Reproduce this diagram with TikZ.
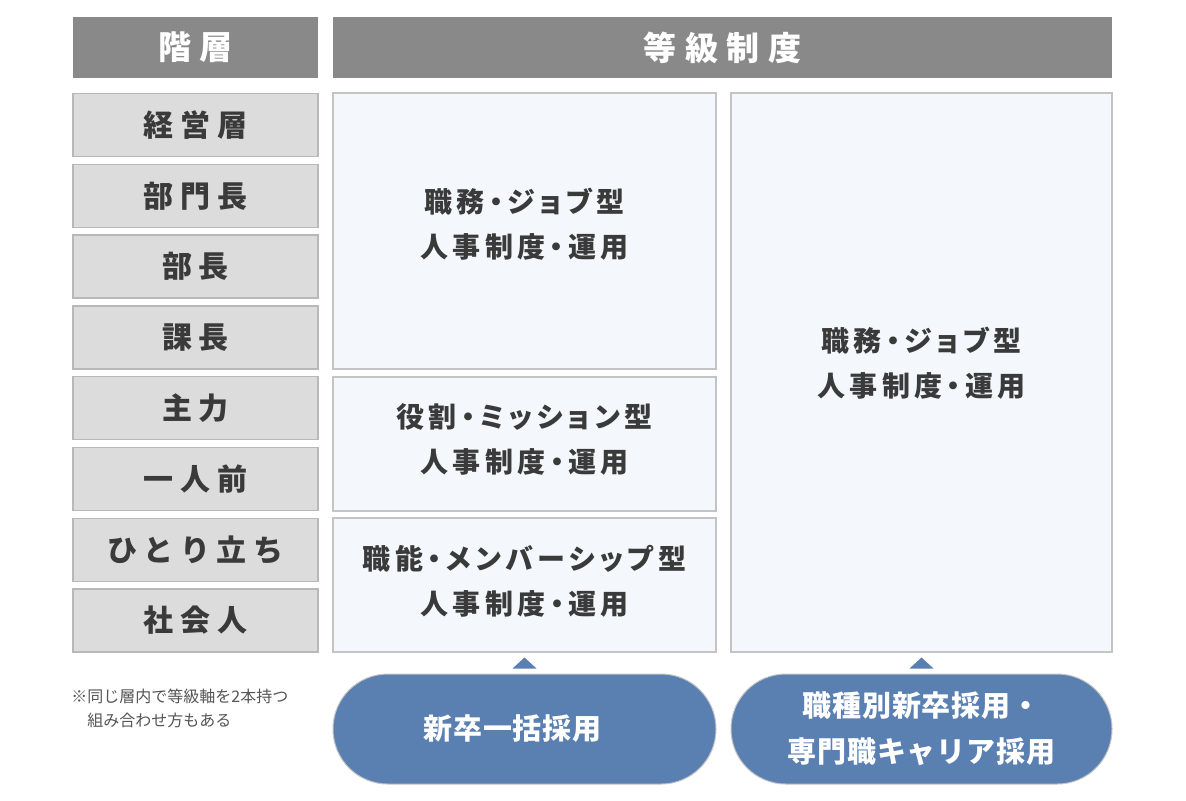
\documentclass[tikz,border=0pt]{standalone}
\usepackage{fontspec}
\setmainfont{Noto Sans CJK JP}
\newfontfamily\jpwide{Noto Sans CJK JP}[LetterSpace=22]
\newfontfamily\jphead{Noto Sans CJK JP}[LetterSpace=27]
\newfontfamily\jpbox{Noto Sans CJK JP}[LetterSpace=16,RawFeature=+palt]
\newfontfamily\jppill{Noto Sans CJK JP}[LetterSpace=3]
\usetikzlibrary{calc}
\definecolor{headgray}{HTML}{898989}
\definecolor{rowgray}{HTML}{DCDCDC}
\definecolor{rowline}{HTML}{B8B8B8}
\definecolor{boxfill}{HTML}{F4F8FC}
\definecolor{boxline}{HTML}{C4C4C4}
\definecolor{pillblue}{HTML}{5A80B2}
\definecolor{inkgray}{HTML}{3A3A3A}
\definecolor{notegray}{HTML}{555555}
\tikzstyle{headbox} = [fill=headgray,text=white,font=\jphead\bfseries\fontsize{16.5}{18}\selectfont,minimum height=30.5pt,inner sep=0pt]
\tikzstyle{levelbox} = [draw=rowline,line width=0.7pt,fill=rowgray,text=inkgray,font=\jpwide\bfseries\fontsize{15}{17}\selectfont,minimum width=122.5pt,minimum height=31.5pt,inner sep=0pt]
\tikzstyle{gradebox} = [draw=boxline,line width=0.7pt,fill=boxfill,inner sep=0pt]
\tikzstyle{gradetext} = [text=inkgray,font=\jpbox\bfseries\fontsize{14}{22.5}\selectfont,align=center,inner sep=0pt]
\tikzstyle{hirepill} = [draw=boxline,line width=0.5pt,fill=pillblue,text=white,font=\jppill\bfseries\fontsize{14.5}{23}\selectfont,align=center,rounded corners=27.4pt,minimum height=55pt,inner sep=0pt]

\begin{document}
\begin{tikzpicture}[x=0.5pt,y=-0.5pt]
	\useasboundingbox[fill=white] (0,0) rectangle (1186,800);

	%% headers
	\node[headbox,minimum width=122.5pt] (headlevel) at (195.5,47.5) {階層};
	\node[headbox,minimum width=389.5pt] (headgrade) at (722.5,47.5) {等級制度};

	%% levels
	\node[levelbox] (l1) at (195.5,125) {経営層};
	\node[levelbox] (l2) at (195.5,195.8) {部門長};
	\node[levelbox] (l3) at (195.5,266.6) {部長};
	\node[levelbox] (l4) at (195.5,337.4) {課長};
	\node[levelbox] (l5) at (195.5,408.2) {主力};
	\node[levelbox] (l6) at (195.5,479) {一人前};
	\node[levelbox] (l7) at (195.5,549.8) {ひとり立ち};
	\node[levelbox] (l8) at (195.5,620.6) {社会人};

	%% grade systems
	\node[gradebox,minimum width=191.5pt,minimum height=138pt] (job) at (524.5,231) {};
	\node[gradebox,minimum width=191.5pt,minimum height=67pt] (role) at (524.5,444) {};
	\node[gradebox,minimum width=191.5pt,minimum height=67pt] (skill) at (524.5,585) {};
	\node[gradebox,minimum width=190.5pt,minimum height=279.5pt] (jobwide) at (921.5,372.5) {};
	\node[gradetext] (jobtext) at ($(job)+(0,-7)$) {職務・ジョブ型\\人事制度・運用};
	\node[gradetext] (roletext) at ($(role)+(0,-5)$) {役割・ミッション型\\人事制度・運用};
	\node[gradetext] (skilltext) at ($(skill)+(0,-4)$) {職能・メンバーシップ型\\人事制度・運用};
	\node[gradetext] (jobwidetext) at ($(jobwide)+(0,-9)$) {職務・ジョブ型\\人事制度・運用};

	%% hiring
	\node[hirepill,minimum width=191.5pt] (hireA) at (524.5,729) {新卒一括採用\hspace*{12pt}};
	\node[hirepill,minimum width=190.5pt] (hireB) at (921.5,729) {職種別新卒採用・\\専門職キャリア採用};
	\fill[pillblue] ($(hireA.north)+(-12,-5)$) -- ($(hireA.north)+(12,-5)$) -- ($(hireA.north)+(0,-16)$) -- cycle;
	\fill[pillblue] ($(hireB.north)+(-12,-5)$) -- ($(hireB.north)+(12,-5)$) -- ($(hireB.north)+(0,-16)$) -- cycle;

	%% note
	\node[anchor=north west,align=left,text=notegray,font=\fontsize{8}{12}\selectfont,inner sep=0pt] (note) at (71,689) {※同じ層内で等級軸を2本持つ\\\hspace*{1em}組み合わせ方もある};
\end{tikzpicture}
\end{document}
